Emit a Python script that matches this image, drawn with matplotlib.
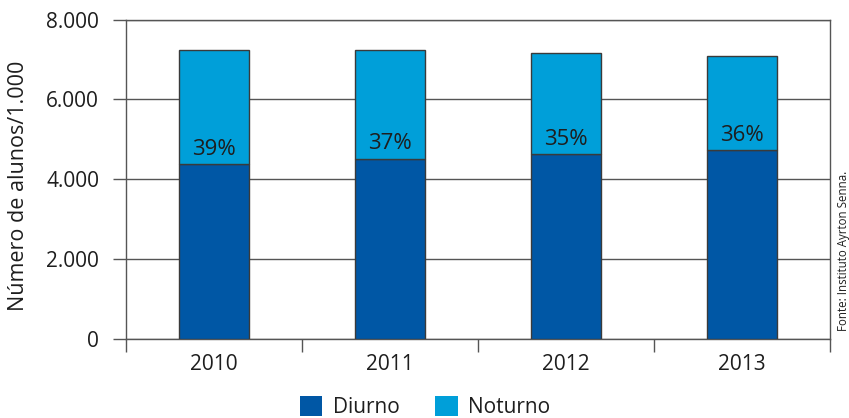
import matplotlib
matplotlib.use("Agg")
import matplotlib.pyplot as plt
from matplotlib.patches import Patch
from matplotlib.ticker import FuncFormatter, FixedLocator

years = ["2010", "2011", "2012", "2013"]
diurno = [4370, 4510, 4620, 4720]
total = [7230, 7230, 7170, 7100]
noturno = [t - d for t, d in zip(total, diurno)]
pct_labels = ["39%", "37%", "35%", "36%"]
yticks = [0, 2000, 4000, 6000, 8000]

c_diurno = "#0057A5"
c_noturno = "#009FD9"
line_c = "#555555"
edge_c = "#3a3a3a"
txt_c = "#1e1e1e"

plt.rcParams['font.family'] = ['Open Sans', 'DejaVu Sans']

fig = plt.figure(figsize=(8.49, 4.18), dpi=100)
ax = fig.add_axes([126/849, 1 - 338.7/418, 704/849, 319/418])

x = list(range(len(years)))
ax.bar(x, diurno, width=0.4, color=c_diurno, edgecolor=edge_c, linewidth=1.0, zorder=3)
ax.bar(x, noturno, bottom=diurno, width=0.4, color=c_noturno, edgecolor=edge_c, linewidth=1.0, zorder=3)

for xi, d, lab in zip(x, diurno, pct_labels):
    ax.text(xi, d + 120, lab, ha="center", va="bottom", fontsize=16, color=txt_c, zorder=4)

ax.set_xlim(-0.5, 3.5)
ax.set_ylim(0, 8000)
ax.set_yticks(yticks)
ax.yaxis.set_major_formatter(FuncFormatter(lambda v, p: f"{int(v):,}".replace(",", ".")))
ax.tick_params(axis="y", length=9.4, width=1.0, color=line_c, pad=10, labelsize=15, labelcolor=txt_c)
ax.yaxis.grid(True, color=line_c, linewidth=1.0, zorder=1)

ax.set_xticks(x)
ax.set_xticklabels(years)
ax.tick_params(axis="x", which="major", length=0, pad=11, labelsize=15, labelcolor=txt_c)
ax.xaxis.set_minor_locator(FixedLocator([-0.5, 0.5, 1.5, 2.5, 3.5]))
ax.tick_params(axis="x", which="minor", length=9, width=1.0, color=line_c, direction="out")

for s in ax.spines.values():
    s.set_color(line_c)
    s.set_linewidth(1.0)

ax.set_ylabel("Número de alunos/1.000", fontsize=15.5, color=txt_c)
ax.yaxis.set_label_coords(-(126 - 29) / 704, (338.7 - 186) / 319)

fig.text(843/849, 1 - 251/418, "Fonte: Instituto Ayrton Senna.", rotation=90,
         ha="center", va="center", fontsize=8.3, color=txt_c)

handles = [Patch(facecolor=c_diurno, edgecolor="none", label="Diurno"),
           Patch(facecolor=c_noturno, edgecolor="none", label="Noturno")]
fig.legend(handles=handles, loc="center", bbox_to_anchor=(425/849, 1 - 407/418), ncol=2,
           frameon=False, fontsize=15, handlelength=1.1, handleheight=1.1,
           handletextpad=0.5, columnspacing=1.7, borderpad=0, labelcolor=txt_c)

fig.savefig("out.png", dpi=100)
